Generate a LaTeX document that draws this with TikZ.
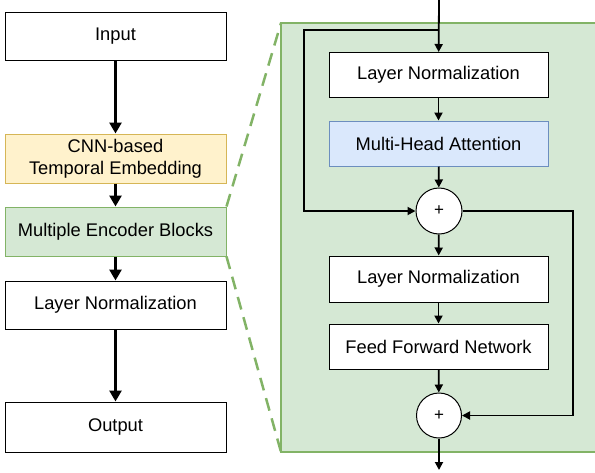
\documentclass[tikz,border=0pt]{standalone}
\usepackage{fontspec}
\setmainfont{Liberation Sans}
\usetikzlibrary{arrows.meta}

\definecolor{yfill}{HTML}{FFF2CC}
\definecolor{ydraw}{HTML}{D6B656}
\definecolor{gfill}{HTML}{D5E8D4}
\definecolor{gdraw}{HTML}{82B366}
\definecolor{bfill}{HTML}{DAE8FC}
\definecolor{bdraw}{HTML}{6C8EBF}

\tikzset{
  blk/.style={draw, fill=white, line width=1pt, minimum width=221pt, minimum height=48pt,
    inner sep=0pt, align=center, font=\fontsize{18.3}{22}\selectfont},
  iblk/.style={blk, minimum width=219pt, minimum height=45pt},
  addop/.style={draw, fill=white, circle, line width=1pt, minimum size=46pt, inner sep=0pt,
    font=\fontsize{17}{18}\selectfont},
  bigarr/.style={-{Triangle[length=11pt,width=12pt]}, line width=3pt},
  arr/.style={-{Triangle[length=8pt,width=8pt]}, line width=1.8pt}
}

\begin{document}
\begin{tikzpicture}[x=1pt,y=-1pt]

\useasboundingbox (0,0) rectangle (595,472);

% encoder block background
\fill[gfill, draw=gdraw, line width=1.5pt] (281,23) rectangle (600,452);

\node[blk] (inp) at (115.5,36) {Input};

\node[blk, fill=yfill, draw=ydraw, minimum height=49pt] (cnn) at (115.5,158.5) {CNN-based\\Temporal Embedding};

\node[blk, fill=gfill, draw=gdraw, minimum height=49pt] (enc) at (115.5,231.5) {Multiple Encoder Blocks};

\node[blk] (lnorm) at (115.5,305) {Layer Normalization};

\node[blk, minimum height=50pt] (outp) at (115.5,427) {Output};

\draw[bigarr] (inp) -- (cnn);
\draw[bigarr] (cnn) -- (enc);
\draw[bigarr] (enc) -- (lnorm);
\draw[bigarr] (lnorm) -- (outp);

% zoom lines
\coordinate (zt) at (281,23);
\coordinate (zb) at (281,452);
\draw[gdraw, line width=2.5pt, dash pattern=on 13pt off 8pt] (enc.north east) -- (zt);
\draw[gdraw, line width=2.5pt, dash pattern=on 13pt off 8pt] (enc.south east) -- (zb);

% inside one encoder block
\coordinate (top) at (439,0);
\coordinate (split) at (439,30);

\node[iblk] (ln1) at (438.5,75) {Layer Normalization};

\node[iblk, fill=bfill, draw=bdraw] (mha) at (438.5,143.5) {Multi-Head Attention};

\node[addop] (add1) at (439,211) {+};

\node[iblk, minimum height=46pt] (ln2) at (438.5,279) {Layer Normalization};

\node[iblk] (ffn) at (438.5,346.5) {Feed Forward Network};

\node[addop, minimum size=45pt] (add2) at (439,415.5) {+};

\coordinate (skl) at (304,211);
\coordinate (skr) at (573,211);
\coordinate (bot) at (439,470);

\draw[arr] (top) -- (ln1);
\draw[arr] (ln1) -- (mha);
\draw[arr] (mha) -- (add1);
\draw[arr] (split) -| (skl) -- (add1.west);
\draw[arr] (add1) -- (ln2);
\draw[arr] (ln2) -- (ffn);
\draw[arr] (ffn) -- (add2);
\draw[arr] (add1.east) -- (skr) |- (add2.east);
\draw[arr] (add2) -- (bot);

\end{tikzpicture}
\end{document}
